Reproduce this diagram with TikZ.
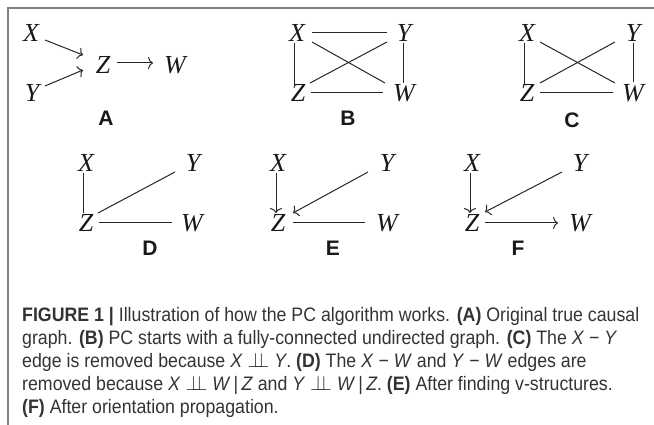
\documentclass[tikz,border=0pt]{standalone}
\usepackage{fontspec}
\setmainfont{Liberation Serif}
\newfontfamily\capfont[FakeStretch=0.91]{Liberation Sans}
\newfontfamily\labfont{Liberation Sans}
\usetikzlibrary{calc,arrows.meta}
\newcommand{\indep}{\ensuremath{\perp\!\!\!\perp}}
\begin{document}
\begin{tikzpicture}[x=1pt,y=-1pt,
  vtx/.style={inner sep=0pt, font=\itshape\fontsize{26}{26}\selectfont, text=black!90},
  lab/.style={inner sep=0pt, font=\labfont\bfseries\fontsize{21}{21}\selectfont, text=black!90},
  ln/.style={line width=1pt, draw=black!85},
  ar/.style={ln, -{To[length=5pt,width=12pt]}},
  capline/.style={anchor=base west, inner sep=0pt, font=\capfont\fontsize{19.5}{19.5}\selectfont, text=black!80},
  framestyle/.style={line width=1.6pt, draw=black!50}]
\useasboundingbox (0,0) rectangle (654,425);
% frame
\coordinate (f0) at (8,425);
\coordinate (f1) at (8,8);
\coordinate (f2) at (654,8);
\draw[framestyle] (f0) -- (f1) -- (f2);

% Panel A
\node[vtx] (XA) at (31,33) {X};
\node[vtx] (YA) at (32,93) {Y};
\node[vtx] (ZA) at (103,65) {Z};
\node[vtx] (WA) at (175,65) {W};
\node[lab] (LA) at (106,118) {A};
\draw[ar] ($(XA)+(14,7)$) -- ($(ZA)+(-20,-10)$);
\draw[ar] ($(YA)+(13,-7)$) -- ($(ZA)+(-20,5)$);
\draw[ar] ($(ZA)+(14,-2)$) -- ($(WA)+(-22,-2)$);

% Panel B
\node[vtx] (XB) at (297,33) {X};
\node[vtx] (YB) at (404,33) {Y};
\node[vtx] (ZB) at (298,93) {Z};
\node[vtx] (WB) at (404,93) {W};
\node[lab] (LB) at (348,118) {B};
\draw[ln] ($(XB)+(15,0)$) -- ($(YB)+(-17,0)$);
\draw[ln] ($(XB)+(-3,10)$) -- ($(ZB)+(-4,-8)$);
\draw[ln] ($(YB)+(-1,10)$) -- ($(WB)+(-1,-10)$);
\draw[ln] ($(ZB)+(13,0)$) -- ($(WB)+(-21,0)$);
\draw[ln] ($(XB)+(15,9)$) -- ($(WB)+(-19,-10)$);
\draw[ln] ($(ZB)+(12,-10)$) -- ($(YB)+(-17,9)$);

% Panel C
\node[vtx] (XC) at (527,33) {X};
\node[vtx] (YC) at (633,33) {Y};
\node[vtx] (ZC) at (527,93) {Z};
\node[vtx] (WC) at (633,93) {W};
\node[lab] (LC) at (572,120) {C};
\draw[ln] ($(XC)+(-3,10)$) -- ($(ZC)+(-3,-8)$);
\draw[ln] ($(YC)+(0,10)$) -- ($(WC)+(0,-11)$);
\draw[ln] ($(XC)+(13,9)$) -- ($(WC)+(-18,-10)$);
\draw[ln] ($(ZC)+(13,-10)$) -- ($(YC)+(-18,9)$);
\draw[ln] ($(ZC)+(13,0)$) -- ($(WC)+(-20,0)$);

% Panel D
\node[vtx] (XD) at (86,163) {X};
\node[vtx] (YD) at (193,163) {Y};
\node[vtx] (ZD) at (86,223) {Z};
\node[vtx] (WD) at (192,223) {W};
\node[lab] (LD) at (150,248) {D};
\draw[ln] ($(XD)+(-3,10)$) -- ($(ZD)+(-3,-10)$);
\draw[ln] ($(ZD)+(12,-10)$) -- ($(YD)+(-18,9)$);
\draw[ln] ($(ZD)+(13,0)$) -- ($(WD)+(-20,0)$);

% Panel E
\node[vtx] (XE) at (278,163) {X};
\node[vtx] (YE) at (387,163) {Y};
\node[vtx] (ZE) at (278,223) {Z};
\node[vtx] (WE) at (387,223) {W};
\node[lab] (LE) at (333,248) {E};
\draw[ar] ($(XE)+(-2,10)$) -- ($(ZE)+(-2,-10)$);
\draw[ar] ($(YE)+(-19,9)$) -- ($(ZE)+(15,-10)$);
\draw[ln] ($(ZE)+(15,0)$) -- ($(WE)+(-22,0)$);

% Panel F
\node[vtx] (XF) at (472,163) {X};
\node[vtx] (YF) at (580,163) {Y};
\node[vtx] (ZF) at (472,223) {Z};
\node[vtx] (WF) at (580,223) {W};
\node[lab] (LF) at (518,248) {F};
\draw[ar] ($(XF)+(-2,10)$) -- ($(ZF)+(-2,-10)$);
\draw[ar] ($(YF)+(-18,9)$) -- ($(ZF)+(13,-11)$);
\draw[ar] ($(ZF)+(13,0)$) -- ($(WF)+(-22,0)$);

% Caption
\node[capline] (cap1) at (22,321) {\textbf{FIGURE 1 |} Illustration of how the PC algorithm works. \textbf{(A)} Original true causal};
\node[capline] (cap2) at (22,344) {graph. \textbf{(B)} PC starts with a fully-connected undirected graph. \textbf{(C)} The \textit{X} − \textit{Y}};
\node[capline] (cap3) at (22,367) {edge is removed because \textit{X} \indep{} \textit{Y}. \textbf{(D)} The \textit{X} − \textit{W} and \textit{Y} − \textit{W} edges are};
\node[capline] (cap4) at (22,390) {removed because \textit{X} \indep{} \textit{W}\,|\,\textit{Z} and \textit{Y} \indep{} \textit{W}\,|\,\textit{Z}. \textbf{(E)} After finding v-structures.};
\node[capline] (cap5) at (22,413) {\textbf{(F)} After orientation propagation.};
\end{tikzpicture}
\end{document}
